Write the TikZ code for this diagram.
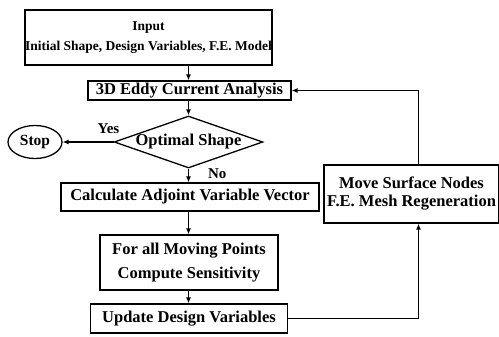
\documentclass[tikz,border=0pt]{standalone}
\usepackage{fontspec}
\setmainfont{Liberation Serif}
\usetikzlibrary{shapes.geometric,arrows.meta}
\begin{document}
\begin{tikzpicture}[x=1pt,y=-1pt,
  font=\fontsize{16.5}{20}\selectfont\bfseries,
  stepbox/.style={draw,line width=1.3pt,inner sep=0pt,align=center},
  flow/.style={line width=1.1pt,-{Latex[length=6pt,width=5pt]}},
  lbl/.style={inner sep=0pt,font=\fontsize{15}{18}\selectfont\bfseries}]
\useasboundingbox (0,0) rectangle (499,337);
% process boxes
\node[stepbox,minimum width=247pt,minimum height=55pt,
      font=\fontsize{13.5}{16}\selectfont\bfseries] (inp) at (148.5,37.5)
  {Input\\[4pt]Initial Shape, Design Variables, F.E. Model};
\node[stepbox,minimum width=203pt,minimum height=19pt] (eddy) at (189.5,90.5)
  {3D Eddy Current Analysis};
\node[stepbox,diamond,aspect=2.86,minimum width=143pt,minimum height=50pt] (opt) at (188.5,142)
  {Optimal Shape};
\node[stepbox,ellipse,minimum width=54pt,minimum height=33pt,
      font=\fontsize{15.5}{18}\selectfont\bfseries] (stop) at (35,142)
  {Stop};
\node[stepbox,minimum width=258pt,minimum height=28pt] (adj) at (190,197)
  {Calculate Adjoint Variable Vector};
\node[stepbox,minimum width=178pt,minimum height=55pt] (sens) at (189,262.5)
  {For all Moving Points\\[4pt]Compute Sensitivity};
\node[stepbox,minimum width=197pt,minimum height=29pt] (upd) at (189,318.5)
  {Update Design Variables};
\node[stepbox,minimum width=175pt,minimum height=58pt,
      font=\fontsize{16.5}{18}\selectfont\bfseries] (move) at (411.5,194)
  {Move Surface Nodes\\F.E. Mesh Regeneration};
% column of the main flow and of the return loop
\coordinate (col) at (188.5,0);
\coordinate (fb) at (418.5,0);
% connectors
\draw[flow] (col |- inp.south) -- (col |- eddy.north);
\draw[flow] (col |- eddy.south) -- (opt.north);
\draw[flow] (opt.south) -- node[lbl,right=19pt,pos=0.35]{No} (col |- adj.north);
\draw[flow] (opt.west) -- node[lbl,pos=0.1,yshift=13pt]{Yes} (stop.east);
\draw[flow] (col |- adj.south) -- (col |- sens.north);
\draw[flow] (col |- sens.south) -- (col |- upd.north);
\draw[flow] (upd.east) -| (fb |- move.south);
\draw[flow] (fb |- move.north) |- (eddy.east);
\end{tikzpicture}
\end{document}
